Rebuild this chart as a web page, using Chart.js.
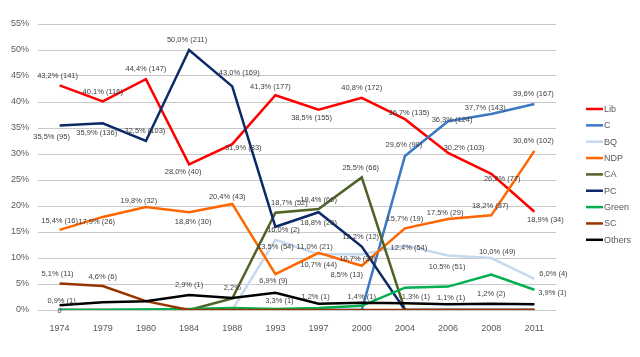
<!DOCTYPE html>
<html><head><meta charset="utf-8">
<script src="https://cdn.jsdelivr.net/npm/chart.js@4.4.1/dist/chart.umd.min.js"></script>
<style>html,body{margin:0;padding:0;background:#fff}#wrap{width:640px;height:357px;position:relative}</style>
</head><body><div id="wrap"><canvas id="c"></canvas></div>
<script>
// ---- data ----
const years = ['1974','1979','1980','1984','1988','1993','1997','2000','2004','2006','2008','2011'];
const seriesNames = ['Lib','C','BQ','NDP','CA','PC','Green','SC','Others'];
const lib    = [43.2,40.1,44.4,28.0,31.9,41.3,38.5,40.8,36.7,30.2,26.2,18.9];
const con    = [0,0,0,0,0,0,0,0,29.6,36.3,37.7,39.6];
const bq     = [0,0,0,0,0,13.5,10.7,10.7,12.4,10.5,10.0,6.0];
const ndp    = [15.4,17.9,19.8,18.8,20.4,6.9,11.0,8.5,15.7,17.5,18.2,30.6];
const ca     = [0,0,0,0,2.2,18.7,19.4,25.5,0,0,0,0];
const pc     = [35.5,35.9,32.5,50.0,43.0,16.0,18.8,12.2,0,0,0,0];
const green  = [0,0,0.1,0.2,0.4,0.2,0.4,0.8,4.3,4.5,6.8,3.9];
const sc     = [5.1,4.6,1.7,0,0,0,0,0,0,0,0,0];
const others = [0.9,1.5,1.7,2.9,2.3,3.3,1.2,1.4,1.3,1.1,1.2,1.1];

const libLabels = ['43,2% (141)','40,1% (116)','44,4% (147)','28,0% (40)','31,9% (83)','41,3% (177)','38,5% (155)','40,8% (172)','36,7% (135)','30,2% (103)','26,2% (77)','18,9% (34)'];
const conLabels = [null,null,null,null,null,null,null,null,'29,6% (99)','36,3% (124)','37,7% (143)','39,6% (167)'];
const bqLabels = [null,null,null,null,null,'13,5% (54)','10,7% (44)','10,7% (38)','12,4% (54)','10,5% (51)','10,0% (49)','6,0% (4)'];
const ndpLabels = ['15,4% (16)','17,9% (26)','19,8% (32)','18,8% (30)','20,4% (43)','6,9% (9)','11,0% (21)','8,5% (13)','15,7% (19)','17,5% (29)','18,2% (37)','30,6% (102)'];
const caLabels = [null,null,null,null,'2,2%','18,7% (52)','19,4% (60)','25,5% (66)',null,null,null,null];
const pcLabels = ['35,5% (95)','35,9% (136)','32,5% (103)','50,0% (211)','43,0% (169)','16,0% (2)','18,8% (20)','12,2% (12)',null,null,null,null];
const greenLabels = ['0',null,null,null,null,null,null,null,null,null,null,'3,9% (1)'];
const scLabels = ['5,1% (11)','4,6% (6)',null,null,null,null,null,null,null,null,null,null];
const othersLabels = ['0,9% (1)',null,null,'2,9% (1)',null,'3,3% (1)','1,2% (1)','1,4% (1)','1,3% (1)','1,1% (1)','1,2% (2)',null];

// ---- style / layout ----
const colors = ['#ff0000','#3c78c3','#c6d9f0','#ff6600','#4f6228','#0b2a66','#00b050','#993300','#000000'];
const labelOffsets = [
  [[-2,-9],[0,-10],[0,-10],[-6,8],[11,4],[-5,-8],[-7,8],[0,-10],[4,-6],[16,-5],[11,5],[11,8]],
  [null,null,null,null,null,null,null,null,[-1,-11],[4,-1],[-6,-6],[-1,-10]],
  [null,null,null,null,null,[0,7],[0,11],[-4,5],[4,2],[-1,12],[6,-6],[19,-5]],
  [[0,-9],[-6,5],[-7,-6],[4,10],[-5,-7],[-2,7],[-4,-6],[-15,9],[0,-9],[-3,-6],[-1,-9],[-1,-10]],
  [null,null,null,null,[0,-11],[14,-10],[0,-9],[-1,-9],null,null,null,null],
  [[-8,12],[-6,10],[-1,-10],[-2,-10],[7,-13],[8,3],[0,11],[-1,-10],null,null,null,null],
  [[0,1],null,null,null,null,null,null,null,null,null,null,[18,3]],
  [[-2,-10],[0,-9],null,null,null,null,null,null,null,null,null,null],
  [[2,-4],null,null,[0,-10],null,[4,8],[-3,-7],[0,-6],[11,-6],[3,-6],[0,-10],null]
];
const allValues = [lib,con,bq,ndp,ca,pc,green,sc,others];
const allLabels = [libLabels,conLabels,bqLabels,ndpLabels,caLabels,pcLabels,greenLabels,scLabels,othersLabels];
const FONT = "'Liberation Sans', Arial, sans-serif";

const dataLabelPlugin = {
  id: 'dataLabels',
  afterDatasetsDraw(chart) {
    const ctx = chart.ctx;
    ctx.save();
    ctx.font = '7.5px ' + FONT;
    ctx.fillStyle = '#404040';
    ctx.textAlign = 'center';
    ctx.textBaseline = 'middle';
    allLabels.forEach((labels, i) => {
      const meta = chart.getDatasetMeta(i);
      labels.forEach((t, j) => {
        if (t == null) return;
        const el = meta.data[j];
        const off = labelOffsets[i][j] || [0, -10];
        ctx.fillText(t, el.x + off[0], el.y + off[1]);
      });
    });
    ctx.restore();
  }
};

const legendPlugin = {
  id: 'customLegend',
  afterDraw(chart) {
    const ctx = chart.ctx;
    ctx.save();
    ctx.font = '9px ' + FONT;
    ctx.textAlign = 'left';
    ctx.textBaseline = 'middle';
    chart.data.datasets.forEach((ds, i) => {
      const y = 109 + i * 16.35;
      ctx.strokeStyle = ds.borderColor;
      ctx.lineWidth = 2.5;
      ctx.beginPath();
      ctx.moveTo(586, y);
      ctx.lineTo(603, y);
      ctx.stroke();
      ctx.fillStyle = '#595959';
      ctx.fillText(ds.label, 604, y + 0.5);
    });
    ctx.restore();
  }
};

const datasets = seriesNames.map((name, i) => ({
  label: name,
  data: allValues[i],
  borderColor: colors[i],
  backgroundColor: colors[i],
  borderWidth: 2.5,
  pointRadius: 0,
  pointHoverRadius: 0,
  tension: 0,
  fill: false,
  order: seriesNames.length - i
}));

new Chart(document.getElementById('c'), {
  type: 'line',
  data: { labels: years, datasets },
  plugins: [dataLabelPlugin, legendPlugin],
  options: {
    responsive: true,
    maintainAspectRatio: false,
    animation: false,
    devicePixelRatio: 1,
    layout: { padding: { left: 0, top: 24, right: 84, bottom: 0 } },
    plugins: { legend: { display: false }, tooltip: { enabled: false } },
    scales: {
      x: {
        type: 'category',
        offset: true,
        grid: { display: false, drawTicks: false },
        border: { display: false },
        ticks: { color: '#595959', font: { family: FONT, size: 9 }, padding: 13, maxRotation: 0, autoSkip: false },
        afterFit(scale) { scale.height = 47; }
      },
      y: {
        min: 0, max: 55,
        grid: { color: '#c8c8c8', lineWidth: 1, drawTicks: false },
        border: { display: false },
        ticks: { stepSize: 5, color: '#595959', font: { family: FONT, size: 9 }, padding: 9, callback: v => v + '%' },
        afterFit(scale) { scale.width = 38; }
      }
    }
  }
});
</script>
</body></html>
